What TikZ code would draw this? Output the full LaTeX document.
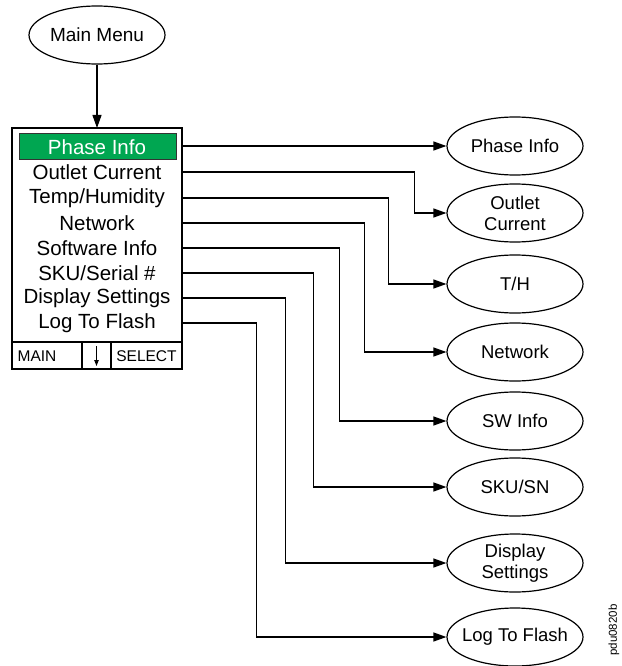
\documentclass[tikz,border=0pt]{standalone}
\usepackage{fontspec}
\setmainfont{Liberation Sans}
\usetikzlibrary{arrows.meta,shapes.geometric,calc}
\definecolor{menugreen}{RGB}{0,166,81}
\begin{document}
\begin{tikzpicture}[x=1pt,y=-1pt,
  oval/.style={draw,ellipse,line width=1.2pt,minimum width=136pt,minimum height=58pt,inner xsep=-14pt,inner ysep=-4pt,align=center,font=\fontsize{18.5}{21}\selectfont},
  item/.style={inner sep=0pt,font=\fontsize{20.5}{24}\selectfont},
  small/.style={inner sep=0pt,font=\fontsize{15.5}{18}\selectfont},
  arr/.style={line width=1.2pt,-{Triangle[length=13pt,width=9pt]}},
  wire/.style={line width=1.2pt}]
\useasboundingbox (0,0) rectangle (621,666);
% main menu
\node[oval,font=\fontsize{19}{22}\selectfont] (mm) at (97,35) {Main Menu};
% menu box
\draw[line width=1.4pt] (12,128) coordinate (boxnw) rectangle (182,369) coordinate (boxse);
\coordinate (boxn) at (97,128);
\coordinate (boxe) at (182,250);
\fill[menugreen,draw=black!80,line width=0.8pt] (19,133) rectangle (176,159);
\draw[wire] (12,342) -- (182,342);
\draw[wire] (82,342) -- (82,369);
\draw[wire] (111,342) -- (111,369);
\node[item,text=white] (t1) at (97,147) {Phase Info};
\node[item] (t2) at (97,172) {Outlet Current};
\node[item] (t3) at (97,198) {Temp/Humidity};
\node[item] (t4) at (97,223) {Network};
\node[item] (t5) at (97,248) {Software Info};
\node[item] (t6) at (97,273) {SKU/Serial \#};
\node[item] (t7) at (97,298) {Display Settings};
\node[item] (t8) at (97,323) {Log To Flash};
\node[small] (bmain) at (37,356) {MAIN};
\node[small] (bsel) at (146.5,356) {SELECT};
\coordinate (dtop) at (96.5,346);
\coordinate (dbot) at (96.5,366);
\draw[line width=1pt,-{Triangle[length=6pt,width=4.5pt]}] (dtop) -- (dbot);
\draw[arr] (mm.south) -- (mm.south |- boxn);
% sub menus
\node[oval] (e1) at (515,146) {Phase Info};
\node[oval] (e2) at (515,213) {Outlet\\Current};
\node[oval] (e3) at (515,284) {T/H};
\node[oval] (e4) at (515,352) {Network};
\node[oval] (e5) at (515,421) {SW Info};
\node[oval] (e6) at (515,487) {SKU/SN};
\node[oval] (e7) at (515,563) {Display\\Settings};
\node[oval] (e8) at (515,637) {Log To Flash};
% connectors
\draw[arr] (e1.west -| boxe) -- (e1.west);
\draw[arr] (t2 -| boxe) -| ([xshift=-32pt]e2.west) -- (e2.west);
\draw[arr] (t3 -| boxe) -| ([xshift=-58pt]e3.west) -- (e3.west);
\draw[arr] (t4 -| boxe) -| ([xshift=-82pt]e4.west) -- (e4.west);
\draw[arr] (t5 -| boxe) -| ([xshift=-107pt]e5.west) -- (e5.west);
\draw[arr] (t6 -| boxe) -| ([xshift=-133pt]e6.west) -- (e6.west);
\draw[arr] (t7 -| boxe) -| ([xshift=-161pt]e7.west) -- (e7.west);
\draw[arr] (t8 -| boxe) -| ([xshift=-190pt]e8.west) -- (e8.west);
% figure id
\node[rotate=90,inner sep=0pt,font=\fontsize{11.5}{13}\selectfont] (fid) at (614,630) {pdu0820b};
\end{tikzpicture}
\end{document}
